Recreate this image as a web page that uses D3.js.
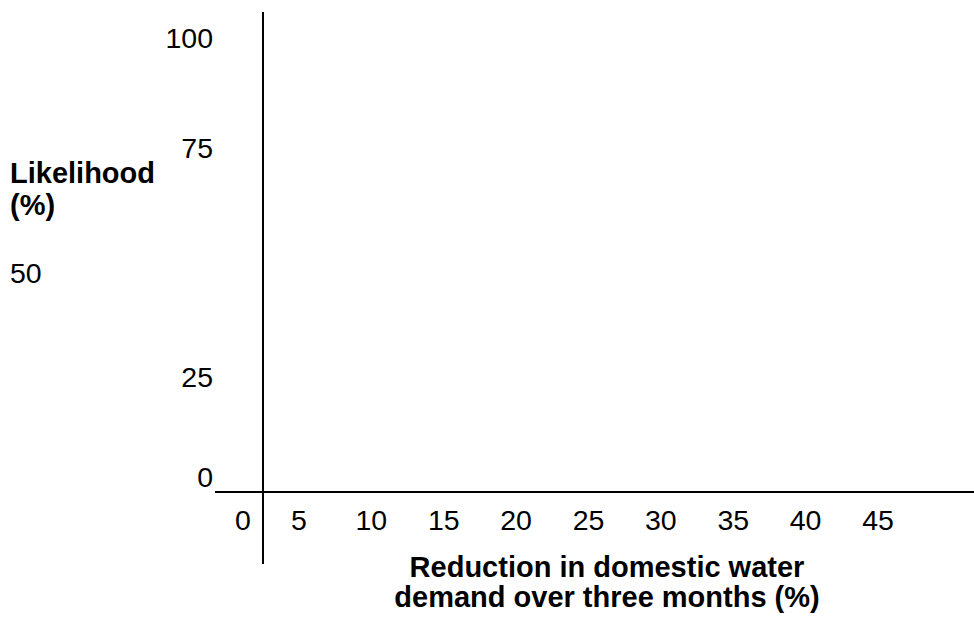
<!DOCTYPE html>
<html><head><meta charset="utf-8">
<script src="https://cdn.jsdelivr.net/npm/d3@7"></script>
<style>body{margin:0;background:#fff}svg{display:block}text{font-family:Arial,"Liberation Sans",sans-serif;fill:#000}</style>
</head><body><svg id="c" width="974" height="617"></svg>
<script>
const xTicks = [0,5,10,15,20,25,30,35,40,45];
const yTicks = [0,25,50,75,100];
const xTitle = ["Reduction in domestic water","demand over three months (%)"];
const yTitle = ["Likelihood","(%)"];

const svg = d3.select("#c");
const x = d3.scaleLinear().domain([0,5,45]).range([243,299,878]);
const y = d3.scaleLinear().domain([0,25,50,75,100]).range([487,387,283,158,48]);

// axis lines
svg.append("line").attr("x1",263).attr("x2",263).attr("y1",12).attr("y2",564)
  .attr("stroke","#000").attr("stroke-width",2);
svg.append("line").attr("x1",215).attr("x2",974).attr("y1",492).attr("y2",492)
  .attr("stroke","#000").attr("stroke-width",2);

// x tick labels
svg.selectAll(".xt").data(xTicks).enter().append("text")
  .attr("x",d=>x(d)).attr("y",530)
  .attr("text-anchor","middle").attr("font-size",28.5).text(d=>d);

// y tick labels
svg.selectAll(".yt").data(yTicks).enter().append("text")
  .attr("x",d=>d===50?10:213).attr("y",d=>y(d))
  .attr("text-anchor",d=>d===50?"start":"end").attr("font-size",28.5).text(d=>d);

// y title
svg.selectAll(".ytl").data(yTitle).enter().append("text")
  .attr("x",10).attr("y",(d,i)=>183+i*32)
  .attr("font-size",29).attr("font-weight","bold").text(d=>d);

// x title
svg.selectAll(".xtl").data(xTitle).enter().append("text")
  .attr("x",607).attr("y",(d,i)=>577+i*30)
  .attr("text-anchor","middle").attr("font-size",29).attr("font-weight","bold").text(d=>d);
</script></body></html>
